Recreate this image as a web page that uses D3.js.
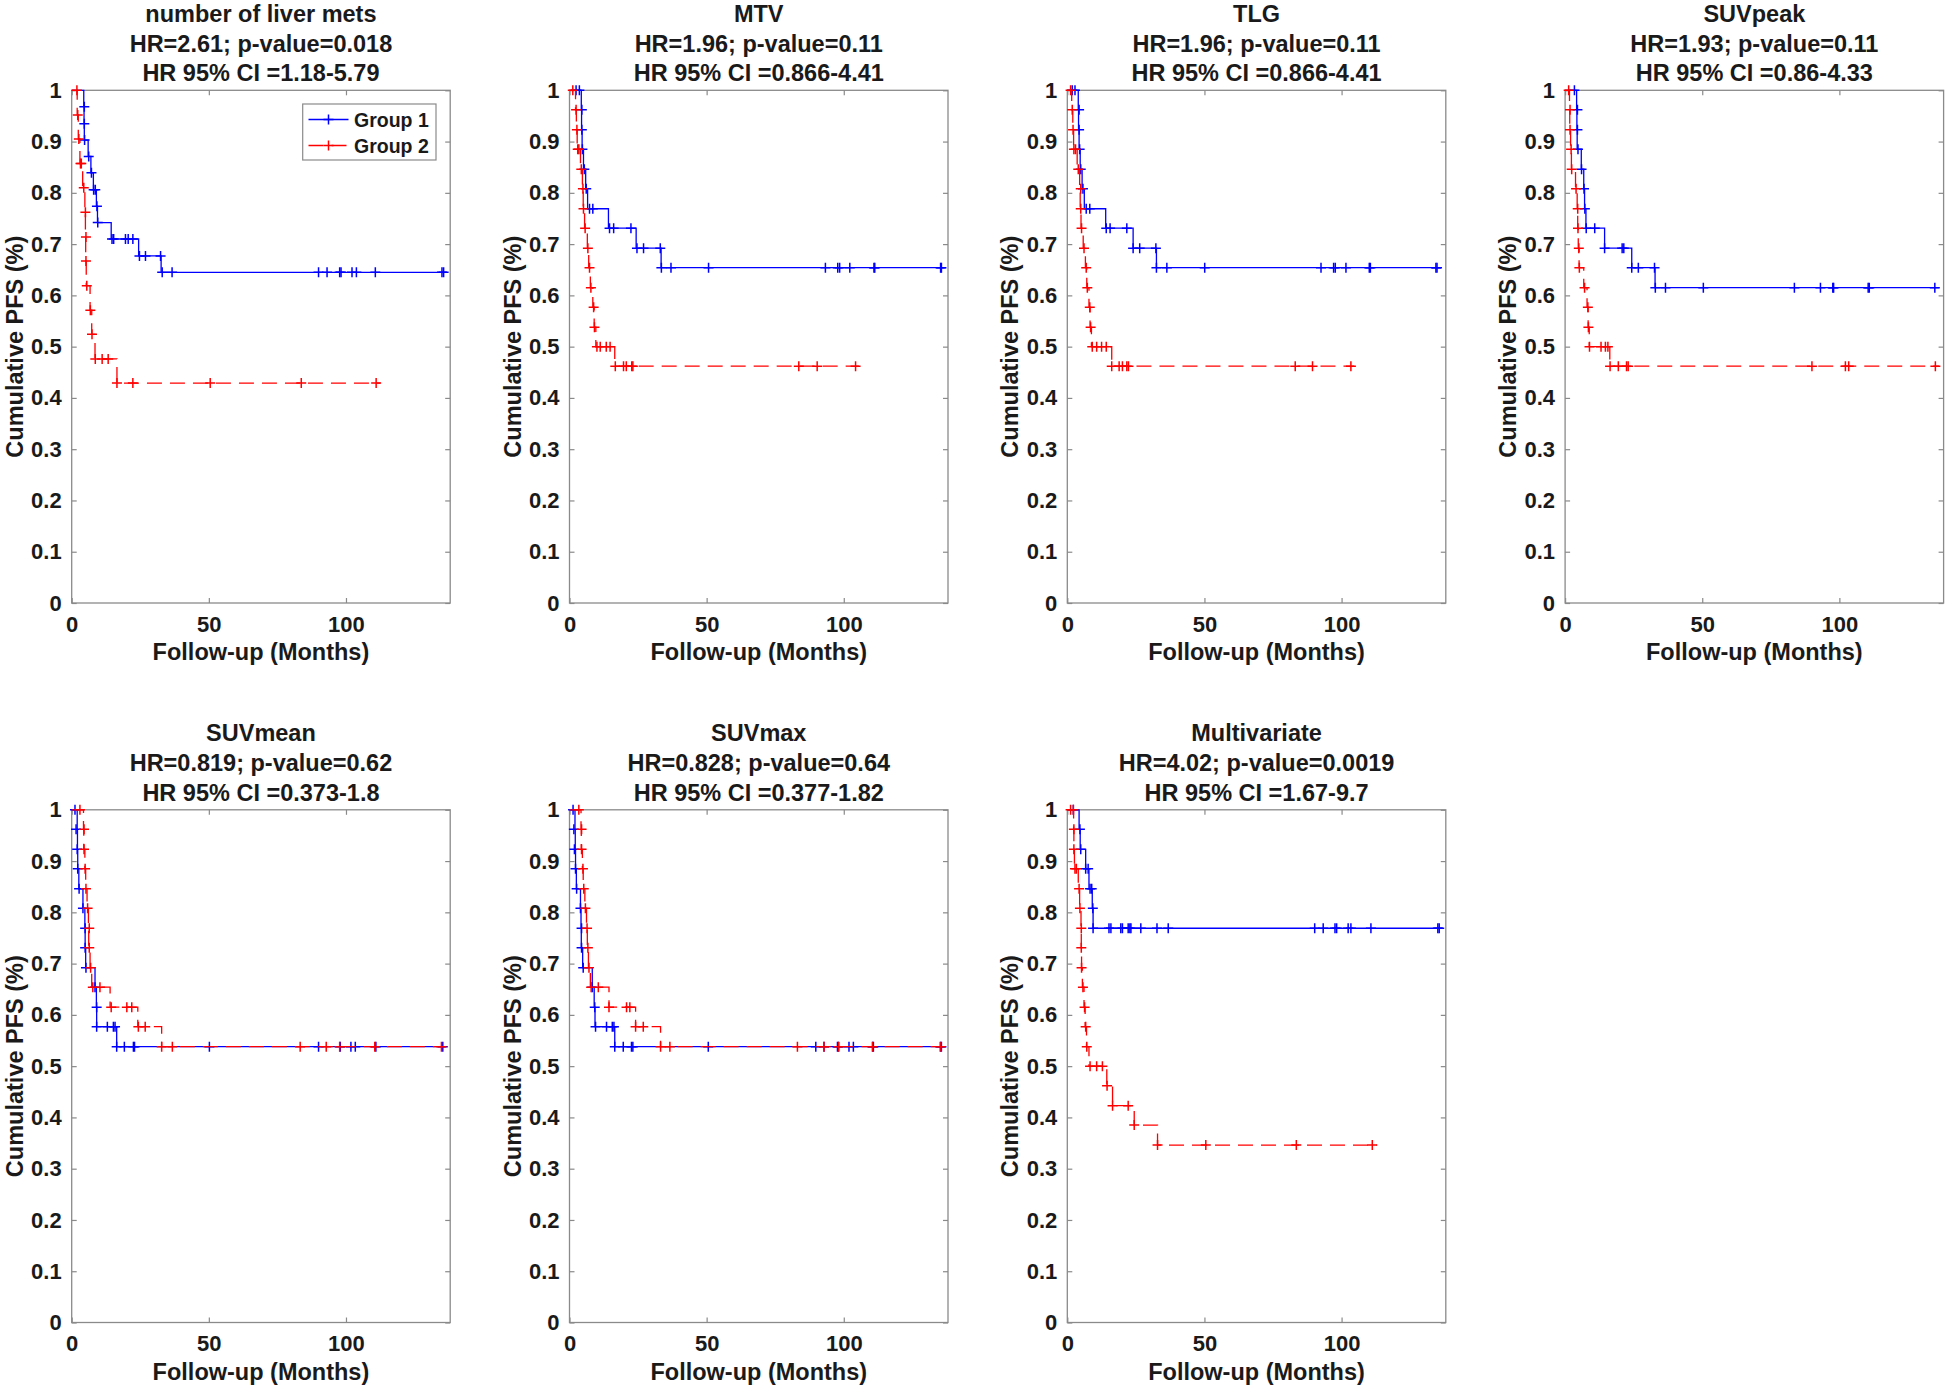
<!DOCTYPE html>
<html><head><meta charset="utf-8">
<script src="https://cdn.jsdelivr.net/npm/d3@7/dist/d3.min.js"></script>
<style>
body{margin:0;background:#fff}
text{font-family:"Liberation Sans",Arial,Helvetica,sans-serif;font-weight:bold;fill:#1a1a1a}
</style>
</head><body>
<svg id="chart" width="1950" height="1394"></svg>
<script>
// ---------- DATA ----------
const panelNames = ["number of liver mets","MTV","TLG","SUVpeak","SUVmean","SUVmax","Multivariate"];
const hrLines = ["HR=2.61; p-value=0.018","HR=1.96; p-value=0.11","HR=1.96; p-value=0.11","HR=1.93; p-value=0.11",
                 "HR=0.819; p-value=0.62","HR=0.828; p-value=0.64","HR=4.02; p-value=0.0019"];
const ciLines = ["HR 95% CI =1.18-5.79","HR 95% CI =0.866-4.41","HR 95% CI =0.866-4.41","HR 95% CI =0.86-4.33",
                 "HR 95% CI =0.373-1.8","HR 95% CI =0.377-1.82","HR 95% CI =1.67-9.7"];
const xTicks = [0, 50, 100];
const yTicks = [0,0.1,0.2,0.3,0.4,0.5,0.6,0.7,0.8,0.9,1];
const yTickLabels = ["0","0.1","0.2","0.3","0.4","0.5","0.6","0.7","0.8","0.9","1"];
const xMax = 138;
const legendLabels = ["Group 1","Group 2"];

// Group 1 (blue) step curves: [time, survival after step]
const group1Steps = [
 [[0,1],[4.4,0.968],[4.5,0.935],[4.6,0.903],[6.0,0.871],[7.0,0.839],[7.9,0.806],[9.0,0.774],[9.4,0.742],[14.4,0.710],[24.4,0.677],[32.6,0.645],[136.6,0.645]],
 [[0,1],[4.3,0.962],[4.4,0.923],[4.6,0.885],[5.1,0.846],[5.9,0.808],[6.6,0.769],[14.2,0.731],[24.3,0.692],[33.4,0.654],[136.5,0.654]],
 [[0,1],[4.0,0.962],[4.1,0.923],[4.3,0.885],[4.7,0.846],[5.4,0.808],[6.2,0.769],[14.0,0.731],[24.0,0.692],[32.5,0.654],[136.3,0.654]],
 [[0,1],[4.2,0.962],[4.3,0.923],[4.4,0.885],[5.9,0.846],[6.8,0.808],[7.1,0.769],[7.6,0.731],[14.4,0.692],[24.3,0.654],[32.8,0.615],[136.3,0.615]],
 [[0,1],[2.0,0.962],[2.1,0.923],[2.2,0.885],[2.6,0.846],[4.1,0.808],[4.8,0.769],[4.9,0.731],[5.1,0.692],[8.5,0.654],[9.0,0.615],[9.1,0.577],[16.4,0.538],[136.3,0.538]],
 [[0,1],[2.0,0.962],[2.1,0.923],[2.2,0.885],[2.5,0.846],[4.0,0.808],[4.2,0.769],[4.3,0.731],[4.8,0.692],[8.3,0.654],[9.0,0.615],[9.3,0.577],[16.5,0.538],[136.5,0.538]],
 [[0,1],[4.3,0.962],[4.7,0.923],[6.7,0.885],[7.9,0.846],[9.1,0.808],[9.4,0.769],[136.8,0.769]]
];
// Group 1 '+' marks: [time, survival]
const group1Marks = [
 [[4.6,0.968],[4.6,0.935],[4.7,0.903],[6.2,0.871],[7.2,0.839],[8.0,0.806],[8.6,0.806],[9.2,0.774],[9.5,0.742],[14.7,0.710],[15.3,0.710],[19.6,0.710],[20.6,0.710],[22.3,0.710],[24.7,0.677],[26.9,0.677],[32.4,0.677],[33.0,0.645],[36.6,0.645],[90.0,0.645],[93.1,0.645],[97.7,0.645],[98.2,0.645],[102.2,0.645],[103.8,0.645],[110.7,0.645],[135.0,0.645],[135.6,0.645]],
 [[2.4,1],[3.6,1],[4.5,0.962],[4.5,0.923],[4.7,0.885],[5.4,0.846],[6.1,0.808],[7.3,0.769],[8.5,0.769],[14.6,0.731],[16.1,0.731],[22.4,0.731],[24.6,0.692],[27.0,0.692],[33.1,0.692],[33.5,0.654],[37.0,0.654],[50.7,0.654],[93.3,0.654],[97.8,0.654],[98.5,0.654],[102.2,0.654],[111.0,0.654],[111.3,0.654],[135.3,0.654],[135.6,0.654]],
 [[1.8,1],[2.8,1],[4.3,0.962],[4.3,0.923],[4.5,0.885],[4.9,0.846],[5.7,0.808],[6.9,0.769],[8.2,0.769],[14.2,0.731],[15.6,0.731],[21.7,0.731],[24.0,0.692],[26.4,0.692],[32.3,0.692],[32.5,0.654],[36.3,0.654],[50.1,0.654],[92.5,0.654],[97.1,0.654],[97.7,0.654],[101.6,0.654],[110.1,0.654],[110.5,0.654],[134.4,0.654],[134.8,0.654]],
 [[3.4,1],[4.5,0.962],[4.5,0.923],[4.7,0.885],[6.0,0.846],[6.9,0.808],[7.2,0.769],[7.7,0.731],[10.8,0.731],[14.4,0.692],[20.8,0.692],[21.4,0.692],[24.3,0.654],[26.7,0.654],[32.6,0.654],[32.9,0.615],[36.6,0.615],[50.4,0.615],[83.6,0.615],[93.1,0.615],[97.6,0.615],[97.9,0.615],[110.5,0.615],[110.9,0.615],[134.8,0.615]],
 [[1.2,1],[1.6,0.962],[2.0,0.923],[2.2,0.885],[2.7,0.846],[4.1,0.808],[4.9,0.769],[4.9,0.731],[5.2,0.692],[8.5,0.654],[9.1,0.615],[9.1,0.577],[13.0,0.577],[15.2,0.577],[15.8,0.577],[16.4,0.538],[19.2,0.538],[22.5,0.538],[22.9,0.538],[50.2,0.538],[90.0,0.538],[97.9,0.538],[101.8,0.538],[103.4,0.538],[110.9,0.538],[135.3,0.538]],
 [[1.3,1],[1.6,0.962],[1.8,0.923],[2.2,0.885],[2.6,0.846],[4.0,0.808],[4.4,0.769],[4.4,0.731],[5.0,0.692],[8.3,0.654],[9.2,0.615],[9.5,0.577],[13.5,0.577],[15.6,0.577],[16.2,0.577],[16.5,0.538],[19.6,0.538],[22.6,0.538],[23.1,0.538],[50.6,0.538],[89.8,0.538],[92.8,0.538],[97.7,0.538],[98.1,0.538],[101.9,0.538],[103.5,0.538],[110.5,0.538],[110.8,0.538],[135.2,0.538],[135.6,0.538]],
 [[2.2,1],[4.6,0.962],[4.9,0.923],[6.7,0.885],[7.6,0.885],[8.3,0.846],[8.9,0.846],[9.3,0.808],[9.4,0.769],[15.2,0.769],[15.9,0.769],[19.5,0.769],[20.1,0.769],[22.2,0.769],[22.8,0.769],[23.2,0.769],[26.8,0.769],[32.7,0.769],[36.8,0.769],[90.2,0.769],[93.3,0.769],[97.6,0.769],[98.2,0.769],[102.4,0.769],[103.4,0.769],[110.7,0.769],[135.1,0.769],[135.6,0.769]]
];
// Group 2 (red) step curves
const group2Steps = [
 [[0,1],[2.0,0.952],[2.4,0.905],[3.0,0.857],[4.0,0.810],[4.8,0.762],[5.0,0.714],[5.1,0.667],[5.3,0.619],[6.7,0.571],[7.3,0.524],[8.5,0.476],[16.5,0.429],[112.5,0.429]],
 [[0,1],[2.2,0.962],[2.5,0.923],[2.8,0.885],[4.0,0.846],[4.7,0.808],[5.0,0.769],[5.5,0.731],[6.5,0.692],[7.0,0.654],[7.6,0.615],[8.5,0.577],[9.0,0.538],[9.6,0.500],[16.5,0.462],[105.5,0.462]],
 [[0,1],[1.6,0.962],[2.0,0.923],[2.3,0.885],[3.6,0.846],[4.5,0.808],[4.7,0.769],[5.0,0.731],[5.8,0.692],[6.6,0.654],[7.1,0.615],[7.9,0.577],[8.3,0.538],[8.8,0.500],[16.2,0.462],[104.6,0.462]],
 [[0,1],[1.6,0.962],[1.7,0.923],[2.0,0.885],[2.3,0.846],[3.8,0.808],[4.4,0.769],[4.6,0.731],[4.8,0.692],[5.1,0.654],[6.8,0.615],[8.0,0.577],[8.4,0.538],[8.8,0.500],[16.3,0.462],[136.3,0.462]],
 [[0,1],[4.3,0.962],[4.4,0.923],[4.8,0.885],[5.1,0.846],[5.6,0.808],[6.1,0.769],[6.2,0.731],[6.7,0.692],[7.3,0.654],[14.0,0.615],[24.1,0.577],[32.8,0.538],[136.3,0.538]],
 [[0,1],[4.2,0.962],[4.3,0.923],[4.7,0.885],[5.0,0.846],[5.6,0.808],[6.2,0.769],[6.5,0.731],[6.9,0.692],[7.6,0.654],[14.4,0.615],[24.1,0.577],[33.2,0.538],[136.5,0.538]],
 [[0,1],[2.3,0.962],[2.4,0.923],[2.6,0.885],[4.0,0.846],[4.5,0.808],[5.0,0.769],[5.1,0.731],[5.2,0.692],[5.5,0.654],[6.1,0.615],[6.5,0.577],[7.0,0.538],[7.9,0.500],[14.4,0.462],[16.5,0.423],[24.4,0.385],[32.9,0.346],[112.8,0.346]]
];
// Group 2 '+' marks
const group2Marks = [
 [[1.9,1],[2.2,0.952],[2.6,0.905],[3.2,0.857],[3.5,0.857],[4.4,0.810],[5.0,0.762],[5.2,0.714],[5.2,0.667],[5.5,0.619],[6.8,0.571],[7.4,0.524],[8.6,0.476],[11.1,0.476],[13.3,0.476],[16.5,0.429],[22.3,0.429],[50.5,0.429],[83.7,0.429],[111.0,0.429]],
 [[1.2,1],[2.4,0.962],[2.7,0.923],[3.0,0.885],[3.4,0.885],[4.3,0.846],[4.9,0.808],[5.1,0.769],[5.7,0.731],[6.7,0.692],[7.3,0.654],[7.8,0.615],[8.8,0.577],[9.1,0.538],[10.0,0.5],[11.2,0.5],[13.4,0.5],[14.8,0.5],[16.7,0.462],[19.7,0.462],[20.7,0.462],[22.7,0.462],[23.1,0.462],[83.6,0.462],[90.3,0.462],[104.3,0.462]],
 [[1.2,1],[1.8,0.962],[2.1,0.923],[2.4,0.885],[3.0,0.885],[4.0,0.846],[4.9,0.808],[4.9,0.769],[5.2,0.731],[6.1,0.692],[6.9,0.654],[7.3,0.615],[8.2,0.577],[8.5,0.538],[9.1,0.5],[10.7,0.5],[12.5,0.5],[14.2,0.5],[16.2,0.462],[18.9,0.462],[20.1,0.462],[21.7,0.462],[22.3,0.462],[83.1,0.462],[89.4,0.462],[103.4,0.462]],
 [[1.3,1],[1.8,0.962],[1.8,0.923],[2.2,0.885],[2.4,0.846],[4.0,0.808],[4.6,0.769],[4.7,0.731],[5.0,0.692],[5.2,0.654],[7.1,0.615],[8.3,0.577],[8.5,0.538],[8.9,0.5],[13.1,0.5],[14.7,0.5],[15.6,0.5],[16.4,0.462],[19.4,0.462],[22.4,0.462],[23.0,0.462],[90.0,0.462],[102.2,0.462],[103.4,0.462],[135.0,0.462]],
 [[3.0,1],[4.5,0.962],[4.5,0.923],[4.9,0.885],[5.2,0.846],[5.8,0.808],[6.4,0.769],[6.4,0.731],[6.9,0.692],[7.7,0.654],[10.3,0.654],[14.4,0.615],[20.1,0.615],[21.9,0.615],[24.3,0.577],[26.8,0.577],[32.8,0.538],[36.7,0.538],[83.3,0.538],[92.8,0.538],[97.7,0.538],[110.5,0.538],[134.8,0.538]],
 [[3.4,1],[4.4,0.962],[4.4,0.923],[4.9,0.885],[5.2,0.846],[5.8,0.808],[6.4,0.769],[6.7,0.731],[7.1,0.692],[7.9,0.654],[10.5,0.654],[14.4,0.615],[20.8,0.615],[22.0,0.615],[24.1,0.577],[26.9,0.577],[33.2,0.538],[36.6,0.538],[83.1,0.538],[92.8,0.538],[98.1,0.538],[110.5,0.538],[135.4,0.538]],
 [[1.2,1],[2.2,1],[2.4,0.962],[2.4,0.923],[2.8,0.885],[3.3,0.885],[4.3,0.846],[4.6,0.808],[5.1,0.769],[5.1,0.731],[5.2,0.692],[5.7,0.654],[6.3,0.615],[6.7,0.577],[7.1,0.538],[8.3,0.5],[10.7,0.5],[12.8,0.5],[14.5,0.462],[16.5,0.423],[22.2,0.423],[24.4,0.385],[32.9,0.346],[50.5,0.346],[83.5,0.346],[111.2,0.346]]
];

// ---------- LAYOUT ----------
const svg = d3.select("#chart");
const W = 378.5, H = 512.7;
const lefts = [71.7, 569.5, 1067.3, 1565.1];
const tops = [90.3, 809.8];
const colors = ["#0000ff", "#ff0000"];
const axisColor = "#8a8a8a";
const dash = "15,8";

function plus(g, x, y, col) {
  const s = 5;
  g.append("path").attr("d", `M${x-s},${y}H${x+s}M${x},${y-s}V${y+s}`)
    .attr("stroke", col).attr("stroke-width", 1.5).attr("fill", "none");
}

panelNames.forEach((name, i) => {
  const L = lefts[i % 4], T = tops[Math.floor(i / 4)];
  const x = d3.scaleLinear().domain([0, xMax]).range([L, L + W]);
  const y = d3.scaleLinear().domain([0, 1]).range([T + H, T]);
  const g = svg.append("g");

  // titles
  const cx = L + W / 2;
  [name, hrLines[i], ciLines[i]].forEach((t, k) => {
    g.append("text").attr("x", cx).attr("y", T - 68.5 + k * 29.7)
      .attr("text-anchor", "middle").style("font-size", "23.5px").text(t);
  });

  // box
  g.append("rect").attr("x", L).attr("y", T).attr("width", W).attr("height", H)
    .attr("fill", "none").attr("stroke", axisColor).attr("stroke-width", 1.3);

  // axes with inward ticks
  const tl = 5;
  const axB = d3.axisBottom(x).tickValues(xTicks).tickSize(-tl).tickPadding(13).tickFormat(d3.format("d"));
  const axT = d3.axisTop(x).tickValues(xTicks).tickSize(-tl).tickFormat("");
  const axL = d3.axisLeft(y).tickValues(yTicks).tickSize(-tl).tickPadding(10).tickFormat((d, j) => yTickLabels[j]);
  const axR = d3.axisRight(y).tickValues(yTicks).tickSize(-tl).tickFormat("");
  const styleAxis = sel => {
    sel.select(".domain").remove();
    sel.selectAll(".tick line").attr("stroke", axisColor).attr("stroke-width", 1.2);
    sel.selectAll(".tick text").style("font-size", "22px").attr("fill", "#1a1a1a")
      .style("font-family", '"Liberation Sans",Arial,sans-serif').style("font-weight", "bold");
  };
  g.append("g").attr("transform", `translate(0,${T + H})`).call(axB).call(styleAxis);
  g.append("g").attr("transform", `translate(0,${T})`).call(axT).call(styleAxis);
  g.append("g").attr("transform", `translate(${L},0)`).call(axL).call(styleAxis);
  g.append("g").attr("transform", `translate(${L + W},0)`).call(axR).call(styleAxis);

  // axis labels
  g.append("text").attr("x", cx).attr("y", T + H + 57).attr("text-anchor", "middle")
    .style("font-size", "23.5px").text("Follow-up (Months)");
  g.append("text").attr("transform", `translate(${L - 49},${T + H / 2}) rotate(-90)`)
    .attr("text-anchor", "middle").style("font-size", "23.5px").text("Cumulative PFS (%)");

  // curves
  const line = d3.line().x(d => x(d[0])).y(d => y(d[1])).curve(d3.curveStepAfter);
  const series = [[group1Steps[i], group1Marks[i]], [group2Steps[i], group2Marks[i]]];
  series.forEach(([steps, marks], s) => {
    g.append("path").attr("d", line(steps)).attr("fill", "none")
      .attr("stroke", colors[s]).attr("stroke-width", 1.3)
      .attr("stroke-dasharray", s === 1 ? dash : null);
    marks.forEach(m => plus(g, x(m[0]), y(m[1]), colors[s]));
  });

  // legend (first panel only)
  if (i === 0) {
    const lg = svg.append("g");
    lg.append("rect").attr("x", 302.7).attr("y", 104).attr("width", 133.3).attr("height", 56)
      .attr("fill", "#fff").attr("stroke", "#8a8a8a").attr("stroke-width", 1.2);
    legendLabels.forEach((lab, k) => {
      const yy = 119.5 + k * 26;
      lg.append("line").attr("x1", 308.5).attr("x2", 348.5).attr("y1", yy).attr("y2", yy)
        .attr("stroke", colors[k]).attr("stroke-width", 1.3)
        .attr("stroke-dasharray", k === 1 ? dash : null);
      plus(lg, 328.5, yy, colors[k]);
      lg.append("text").attr("x", 354).attr("y", yy + 7).style("font-size", "19.5px").text(lab);
    });
  }
});
</script>
</body></html>
